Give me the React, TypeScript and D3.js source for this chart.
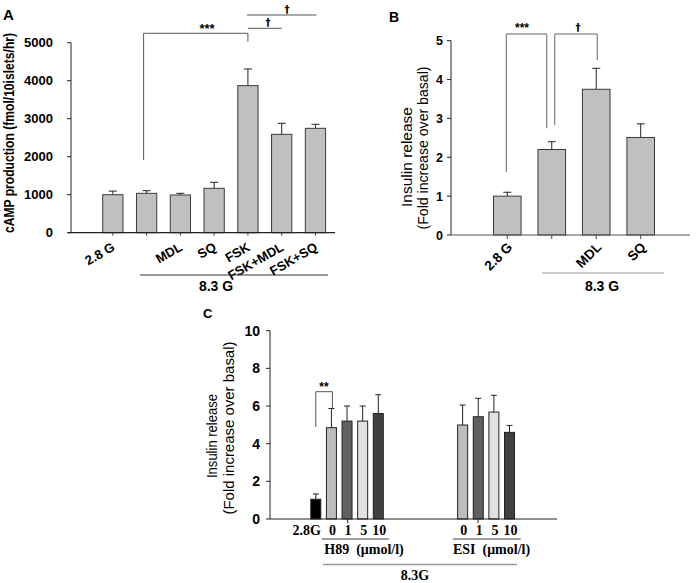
import React from "react";
import * as d3 from "d3";

// Panel A data
const catsA = ["2.8 G", "", "MDL", "SQ", "FSK", "FSK+MDL", "FSK+SQ"];
const valsA = [1000, 1036, 992, 1168, 3870, 2589, 2747];
const errA = [1095, 1105, 1036, 1326, 4308, 2879, 2853];
const ticksA = [0, 1000, 2000, 3000, 4000, 5000];

// Panel B data
const catsB = ["2.8 G", "", "MDL", "SQ"];
const valsB = [1.0, 2.2, 3.75, 2.51];
const errB = [1.1, 2.4, 4.29, 2.86];
const ticksB = [0, 1, 2, 3, 4, 5];

// Panel C data
const catsC = ["2.8G", "0", "1", "5", "10", "0", "1", "5", "10"];
const groupC = ["basal", "H89", "H89", "H89", "H89", "ESI", "ESI", "ESI", "ESI"];
const valsC = [1.05, 4.85, 5.2, 5.2, 5.6, 4.99, 5.43, 5.68, 4.6];
const errC = [1.33, 5.87, 6.0, 6.0, 6.6, 6.05, 6.41, 6.57, 4.97];
const ticksC = [0, 2, 4, 6, 8, 10];

const SANS = "'Liberation Sans', Arial, sans-serif";
const SERIF = "'Liberation Serif', 'DejaVu Serif', serif";
const DAG = "'DejaVu Sans', sans-serif";

export default function App() {
  // ---------- Panel A scales
  const yA = d3.scaleLinear().domain([0, 5000]).range([232.7, 42.7]);
  const xA = d3.scaleBand<number>().domain(d3.range(catsA.length)).range([89.2, 339.1]).padding(0.4);
  const cA = (i: number) => (xA(i) as number) + xA.bandwidth() / 2;

  // ---------- Panel B scales
  const yB = d3.scaleLinear().domain([0, 5]).range([235, 40.7]);
  const xB = d3.scaleBand<number>().domain(d3.range(catsB.length)).range([476.6, 671.4]).padding(0.38);
  const cB = (i: number) => (xB(i) as number) + xB.bandwidth() / 2;

  // ---------- Panel C scales
  const yC = d3.scaleLinear().domain([0, 10]).range([519, 330.7]);
  const slotC = (i: number) => (groupC[i] === "ESI" ? i + 4.4 : i);
  const xC = d3.scaleLinear().domain([0, 12.4]).range([315.8, 509.5]);
  const bwC = 10;
  const colorC = (i: number) => {
    if (groupC[i] === "basal") return "#000000";
    const k = catsC[i];
    return k === "0" ? "#bdbdbd" : k === "1" ? "#606060" : k === "5" ? "#e2e2e2" : "#404040";
  };

  const barStroke = "#3a3a3a";

  return (
    <svg width={699} height={583} style={{ position: "absolute", left: 0, top: 0, background: "#fff" }}>
      {/* ================= Panel A ================= */}
      <text x={3} y={20} fontFamily={SANS} fontWeight="bold" fontSize={15}>A</text>
      <text
        transform={`translate(14,133) rotate(-90)`}
        textAnchor="middle"
        fontFamily={SANS}
        fontWeight="bold"
        fontSize={14}
        textLength={200}
        lengthAdjust="spacingAndGlyphs"
      >
        cAMP production (fmol/10islets/hr)
      </text>
      <line x1={71} x2={71} y1={yA(5000)} y2={yA(0)} stroke="#222" />
      {ticksA.map((t) => (
        <g key={t}>
          <line x1={67} x2={71} y1={yA(t)} y2={yA(t)} stroke="#222" />
          <text x={53} y={yA(t) + 4.5} textAnchor="end" fontFamily={SANS} fontWeight="bold" fontSize={13}>
            {t}
          </text>
        </g>
      ))}
      {valsA.map((v, i) => (
        <g key={i}>
          <line x1={cA(i)} x2={cA(i)} y1={yA(v)} y2={yA(errA[i])} stroke="#222" />
          <line x1={cA(i) - 4} x2={cA(i) + 4} y1={yA(errA[i])} y2={yA(errA[i])} stroke="#222" />
          <rect x={xA(i)} y={yA(v)} width={xA.bandwidth()} height={yA(0) - yA(v)} fill="#c0c0c0" stroke={barStroke} />
          <line x1={cA(i)} x2={cA(i)} y1={yA(0)} y2={yA(0) + 3} stroke="#444" />
        </g>
      ))}
      <line x1={68} x2={335} y1={yA(0)} y2={yA(0)} stroke="#222" strokeWidth={1.2} />
      {catsA.map((c, i) =>
        c ? (
          <text
            key={i}
            transform={`translate(${cA(i) + 3},${yA(0) + 17}) rotate(-30)`}
            textAnchor="end"
            fontFamily={SANS}
            fontWeight="bold"
            fontSize={13}
          >
            {c}
          </text>
        ) : null
      )}
      <line x1={140} x2={328} y1={275} y2={275} stroke="#333" />
      <text x={216} y={291} textAnchor="middle" fontFamily={SANS} fontWeight="bold" fontSize={14}>8.3 G</text>
      {/* significance A */}
      <path d={`M${cA(1) - 3},160 V33.3 H${cA(4)} V41.7`} fill="none" stroke="#555" />
      <text x={207} y={33} textAnchor="middle" fontFamily={SANS} fontWeight="bold" fontSize={13} fill="#000">***</text>
      <line x1={cA(4)} x2={cA(5)} y1={28.3} y2={28.3} stroke="#555" />
      <text x={268} y={26} textAnchor="middle" fontFamily={DAG} fontWeight="bold" fontSize={10} fill="#000">†</text>
      <line x1={cA(4) - 1} x2={cA(6) + 1} y1={15} y2={15} stroke="#555" />
      <text x={287} y={13} textAnchor="middle" fontFamily={DAG} fontWeight="bold" fontSize={10} fill="#000">†</text>

      {/* ================= Panel B ================= */}
      <text x={389} y={22} fontFamily={SANS} fontWeight="bold" fontSize={14}>B</text>
      <text
        transform={`translate(412,157) rotate(-90)`}
        textAnchor="middle"
        fontFamily={SANS}
        fontSize={14}
        textLength={100}
        lengthAdjust="spacingAndGlyphs"
      >
        Insulin release
      </text>
      <text
        transform={`translate(427.5,148) rotate(-90)`}
        textAnchor="middle"
        fontFamily={SANS}
        fontSize={14}
        textLength={163}
        lengthAdjust="spacingAndGlyphs"
      >
        (Fold increase over basal)
      </text>
      <line x1={451} x2={451} y1={yB(5)} y2={yB(0)} stroke="#222" />
      {ticksB.map((t) => (
        <g key={t}>
          <line x1={447} x2={451} y1={yB(t)} y2={yB(t)} stroke="#222" />
          <text x={443} y={yB(t) + 4.5} textAnchor="end" fontFamily={SANS} fontWeight="bold" fontSize={12.5}>
            {t}
          </text>
        </g>
      ))}
      {valsB.map((v, i) => (
        <g key={i}>
          <line x1={cB(i)} x2={cB(i)} y1={yB(v)} y2={yB(errB[i])} stroke="#222" />
          <line x1={cB(i) - 4} x2={cB(i) + 4} y1={yB(errB[i])} y2={yB(errB[i])} stroke="#222" />
          <rect x={xB(i)} y={yB(v)} width={xB.bandwidth()} height={yB(0) - yB(v)} fill="#c0c0c0" stroke={barStroke} />
          <line x1={cB(i)} x2={cB(i)} y1={yB(0)} y2={yB(0) + 4} stroke="#444" />
        </g>
      ))}
      <line x1={451} x2={690} y1={yB(0)} y2={yB(0)} stroke="#555" strokeWidth={1.2} />
      {catsB.map((c, i) =>
        c ? (
          <text
            key={i}
            transform={`translate(${cB(i) + 6},${yB(0) + 13}) rotate(-45)`}
            textAnchor="end"
            fontFamily={SANS}
            fontWeight="bold"
            fontSize={13.5}
          >
            {c}
          </text>
        ) : null
      )}
      <line x1={542} x2={664} y1={273} y2={273} stroke="#999" strokeWidth={1.2} />
      <text x={602} y={291} textAnchor="middle" fontFamily={SANS} fontWeight="bold" fontSize={14}>8.3 G</text>
      {/* significance B */}
      <path d={`M${cB(0) - 1},172 V34 H${cB(1) - 5} V128.3`} fill="none" stroke="#666" />
      <text x={522} y={32} textAnchor="middle" fontFamily={SANS} fontWeight="bold" fontSize={12} fill="#000">***</text>
      <path d={`M${cB(1) + 3},125 V34 H${cB(2) + 1} V60`} fill="none" stroke="#666" />
      <text x={578} y={31} textAnchor="middle" fontFamily={DAG} fontWeight="bold" fontSize={10} fill="#000">†</text>

      {/* ================= Panel C ================= */}
      <text x={203} y={318} fontFamily={SANS} fontWeight="bold" fontSize={13}>C</text>
      <text
        transform={`translate(217,436) rotate(-90)`}
        textAnchor="middle"
        fontFamily={SANS}
        fontSize={14}
        textLength={84}
        lengthAdjust="spacingAndGlyphs"
      >
        Insulin release
      </text>
      <text
        transform={`translate(234,428) rotate(-90)`}
        textAnchor="middle"
        fontFamily={SANS}
        fontSize={14}
        textLength={173}
        lengthAdjust="spacingAndGlyphs"
      >
        (Fold increase over basal)
      </text>
      <line x1={270} x2={270} y1={yC(10)} y2={yC(0)} stroke="#222" />
      {ticksC.map((t) => (
        <g key={t}>
          <line x1={266} x2={270} y1={yC(t)} y2={yC(t)} stroke="#222" />
          <text x={260} y={yC(t) + 5} textAnchor="end" fontFamily={SANS} fontWeight="bold" fontSize={14}>
            {t}
          </text>
        </g>
      ))}
      {valsC.map((v, i) => {
        const cx = xC(slotC(i));
        return (
          <g key={i}>
            <line x1={cx} x2={cx} y1={yC(v)} y2={yC(errC[i])} stroke="#222" />
            <line x1={cx - 3} x2={cx + 3} y1={yC(errC[i])} y2={yC(errC[i])} stroke="#222" />
            <rect x={cx - bwC / 2} y={yC(v)} width={bwC} height={yC(0) - yC(v)} fill={colorC(i)} stroke="#222" />
          </g>
        );
      })}
      <line x1={270} x2={557} y1={yC(0)} y2={yC(0)} stroke="#222" strokeWidth={1.2} />
      <line x1={347.7} x2={347.7} y1={yC(0)} y2={yC(0) + 4} stroke="#222" />
      <line x1={478} x2={478} y1={yC(0)} y2={yC(0) + 4} stroke="#222" />
      {catsC.map((c, i) => (
        <text
          key={i}
          x={xC(slotC(i)) + (i === 0 ? -9 : 1)}
          y={535}
          textAnchor="middle"
          fontFamily={SERIF}
          fontWeight="bold"
          fontSize={14}
        >
          {c}
        </text>
      ))}
      <line x1={321.7} x2={389} y1={539} y2={539} stroke="#444" />
      <line x1={453} x2={520.7} y1={539} y2={539} stroke="#444" />
      <text x={364} y={554} textAnchor="middle" fontFamily={SERIF} fontWeight="bold" fontSize={14} style={{ whiteSpace: "pre" }}>
        {"H89  (μmol/l)"}
      </text>
      <text x={491.5} y={554} textAnchor="middle" fontFamily={SERIF} fontWeight="bold" fontSize={14} style={{ whiteSpace: "pre" }}>
        {"ESI  (μmol/l)"}
      </text>
      <line x1={323} x2={517} y1={564.5} y2={564.5} stroke="#999" strokeWidth={1.5} />
      <text x={415} y={580} textAnchor="middle" fontFamily={SERIF} fontWeight="bold" fontSize={14}>8.3G</text>
      {/* significance C */}
      <path d={`M${xC(slotC(0))},427 V391.7 H${xC(slotC(1)) + 1} V408`} fill="none" stroke="#555" />
      <text x={324} y={391} textAnchor="middle" fontFamily={SANS} fontWeight="bold" fontSize={12} fill="#000">**</text>
    </svg>
  );
}
